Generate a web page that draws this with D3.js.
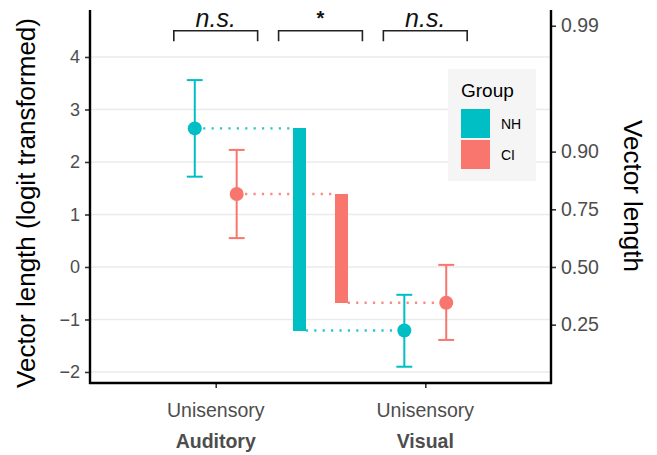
<!DOCTYPE html>
<html>
<head>
<meta charset="utf-8">
<script src="https://cdn.jsdelivr.net/npm/d3@7"></script>
<style>
  body { margin: 0; background: #fff; }
  svg { display: block; font-family: "Liberation Sans", Arial, sans-serif; }
</style>
</head>
<body>
<svg id="chart" width="657" height="455"></svg>
<script>
// ---- data ----
const categories = ["Auditory", "Visual"];
const categorySub = ["Unisensory", "Unisensory"];
const groups = ["NH", "CI"];
const groupColors = ["#00BFC4", "#F8766D"];
const nhMean = [2.64, -1.21];
const nhLow = [1.72, -1.90];
const nhHigh = [3.56, -0.53];
const ciMean = [1.39, -0.68];
const ciLow = [0.55, -1.39];
const ciHigh = [2.23, 0.04];
const leftTicks = [-2, -1, 0, 1, 2, 3, 4];
const rightTicks = [0.25, 0.50, 0.75, 0.90, 0.99];
const sigLabels = ["n.s.", "*", "n.s."];
const sigStart = [0.8, 1.3, 1.8];
const sigEnd = [1.2, 1.7, 2.2];

// ---- layout ----
const L = 90, R = 551, T = 10, B = 383;
const svg = d3.select("#chart");
const x = d3.scaleLinear().domain([0.4, 2.6]).range([L, R]);
const y = d3.scaleLinear().domain([-2.21, 4.895]).range([B, T]);
const logit = p => Math.log(p / (1 - p));

const series = [
  {name: groups[0], color: groupColors[0], mean: nhMean, lo: nhLow, hi: nhHigh, dodge: -0.1, bar: 1.4},
  {name: groups[1], color: groupColors[1], mean: ciMean, lo: ciLow, hi: ciHigh, dodge: 0.1, bar: 1.6}
];

// gridlines
svg.append("g").selectAll("line").data(leftTicks).join("line")
  .attr("x1", L).attr("x2", R)
  .attr("y1", d => y(d)).attr("y2", d => y(d))
  .attr("stroke", "#ebebeb").attr("stroke-width", 1.6);

// dotted connectors (stop at bar edges)
const bw = 0.06;
series.forEach(s => {
  const g = svg.append("g");
  g.append("line")
    .attr("x1", x(1 + s.dodge)).attr("x2", x(s.bar - bw / 2))
    .attr("y1", y(s.mean[0])).attr("y2", y(s.mean[0]));
  g.append("line")
    .attr("x1", x(s.bar + bw / 2)).attr("x2", x(2 + s.dodge))
    .attr("y1", y(s.mean[1])).attr("y2", y(s.mean[1]));
  g.selectAll("line").attr("stroke", s.color).attr("stroke-width", 2.4)
    .attr("stroke-dasharray", "2.2,6.2").attr("opacity", 0.85);
});

// difference bars
series.forEach(s => {
  svg.append("rect")
    .attr("x", Math.round(x(s.bar - bw / 2)))
    .attr("width", Math.round(x(s.bar + bw / 2) - x(s.bar - bw / 2)))
    .attr("y", y(Math.max(s.mean[0], s.mean[1])))
    .attr("height", Math.abs(y(s.mean[0]) - y(s.mean[1])))
    .attr("fill", s.color).attr("shape-rendering", "crispEdges");
});

// error bars and points
const cap = 0.038;
series.forEach(s => {
  const g = svg.append("g");
  categories.forEach((c, i) => {
    const cx = 1 + i + s.dodge;
    g.append("line").attr("x1", x(cx)).attr("x2", x(cx))
      .attr("y1", y(s.lo[i])).attr("y2", y(s.hi[i]));
    g.append("line").attr("x1", x(cx - cap)).attr("x2", x(cx + cap))
      .attr("y1", y(s.hi[i])).attr("y2", y(s.hi[i]));
    g.append("line").attr("x1", x(cx - cap)).attr("x2", x(cx + cap))
      .attr("y1", y(s.lo[i])).attr("y2", y(s.lo[i]));
    g.append("circle").attr("cx", x(cx)).attr("cy", y(s.mean[i])).attr("r", 7)
      .attr("fill", s.color);
  });
  g.selectAll("line").attr("stroke", s.color).attr("stroke-width", 2);
});

// significance brackets
const sigTop = 4.5, sigTip = 4.3;
sigLabels.forEach((lab, i) => {
  const g = svg.append("g");
  g.append("path")
    .attr("d", `M${x(sigStart[i])},${y(sigTip)}V${y(sigTop)}H${x(sigEnd[i])}V${y(sigTip)}`)
    .attr("fill", "none").attr("stroke", "#222").attr("stroke-width", 1.6);
  const t = g.append("text")
    .attr("x", x((sigStart[i] + sigEnd[i]) / 2))
    .attr("text-anchor", "middle").attr("fill", "#111").text(lab);
  if (lab === "*") {
    t.attr("y", 25).attr("font-size", 20).attr("font-weight", "bold");
  } else {
    t.attr("y", 27).attr("font-size", 25).attr("font-style", "italic");
  }
});

// axes
const axisColor = "#000";
const yAxisL = d3.axisLeft(y).tickValues(leftTicks).tickSize(5).tickPadding(5).tickFormat(d3.format("d"));
const gL = svg.append("g").attr("transform", `translate(${L},0)`).call(yAxisL);
const yAxisR = d3.axisRight(y).tickValues(rightTicks.map(logit)).tickSize(5).tickPadding(5)
  .tickFormat((d, i) => d3.format(".2f")(rightTicks[i]));
const gR = svg.append("g").attr("transform", `translate(${R},0)`).call(yAxisR);
const xAxis = d3.axisBottom(x).tickValues([1, 2]).tickSize(5).tickFormat(() => "");
const gX = svg.append("g").attr("transform", `translate(0,${B})`).call(xAxis);

[gL, gR, gX].forEach(g => {
  g.select(".domain").remove();
  g.selectAll(".tick line").attr("stroke", "#333").attr("stroke-width", 1.6);
  g.selectAll(".tick text").attr("fill", "#4d4d4d")
    .attr("font-family", "Liberation Sans, Arial, sans-serif");
});
gL.selectAll(".tick text").attr("font-size", 18);
gR.selectAll(".tick text").attr("font-size", 19.5);

// axis lines
svg.append("line").attr("x1", L).attr("x2", L).attr("y1", T).attr("y2", B + 1)
  .attr("stroke", axisColor).attr("stroke-width", 2.4);
svg.append("line").attr("x1", R).attr("x2", R).attr("y1", T).attr("y2", B + 1)
  .attr("stroke", axisColor).attr("stroke-width", 2.4);
svg.append("line").attr("x1", L - 1).attr("x2", R + 1).attr("y1", B).attr("y2", B)
  .attr("stroke", axisColor).attr("stroke-width", 2.4);

// x category labels
categories.forEach((c, i) => {
  svg.append("text").attr("x", x(1 + i)).attr("y", 417)
    .attr("text-anchor", "middle").attr("font-size", 19.5).attr("fill", "#4d4d4d")
    .text(categorySub[i]);
  svg.append("text").attr("x", x(1 + i)).attr("y", 448)
    .attr("text-anchor", "middle").attr("font-size", 19.5).attr("font-weight", "bold")
    .attr("fill", "#4d4d4d").text(c);
});

// axis titles
svg.append("text").attr("transform", "translate(26,203) rotate(-90)")
  .attr("text-anchor", "middle").attr("dominant-baseline", "central")
  .attr("font-size", 26).attr("fill", "#000").text("Vector length (logit transformed)");
svg.append("text").attr("transform", "translate(633,196) rotate(90)")
  .attr("text-anchor", "middle").attr("dominant-baseline", "central")
  .attr("font-size", 26).attr("fill", "#000").text("Vector length");

// legend
const lg = svg.append("g");
lg.append("rect").attr("x", 448).attr("y", 69).attr("width", 88).attr("height", 112)
  .attr("fill", "#f5f5f5");
lg.append("text").attr("x", 461).attr("y", 97).attr("font-size", 19).attr("fill", "#000").text("Group");
groups.forEach((gname, i) => {
  lg.append("rect").attr("x", 461).attr("y", 109 + i * 31).attr("width", 29).attr("height", 29)
    .attr("fill", groupColors[i]);
  lg.append("text").attr("x", 501).attr("y", 123.5 + i * 31).attr("dominant-baseline", "central")
    .attr("font-size", 14).attr("fill", "#000").text(gname);
});
</script>
</body>
</html>
